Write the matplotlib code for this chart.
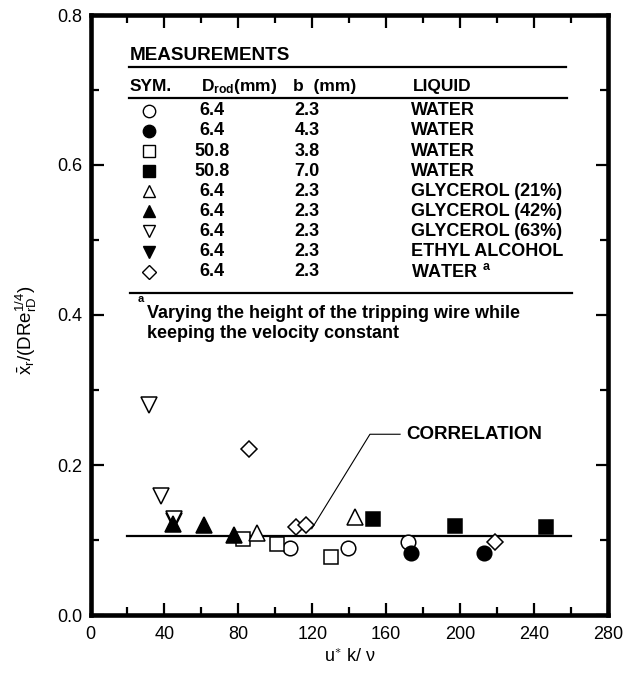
import matplotlib
matplotlib.use("Agg")
import matplotlib.pyplot as plt
from matplotlib.ticker import MultipleLocator, FormatStrFormatter

plt.rcParams['font.family'] = ['Liberation Sans', 'DejaVu Sans']
plt.rcParams['mathtext.fontset'] = 'custom'
plt.rcParams['mathtext.rm'] = 'Liberation Sans'
plt.rcParams['mathtext.it'] = 'Liberation Sans'
plt.rcParams['mathtext.bf'] = 'Liberation Sans:bold'
plt.rcParams['mathtext.sf'] = 'Liberation Sans'

# ---------------- data ----------------
water_23_x = [108.0, 139.5, 171.6]
water_23_y = [0.089, 0.089, 0.097]
water_43_x = [173.4, 212.8]
water_43_y = [0.083, 0.083]
water_508_38_x = [82.7, 100.8, 130.0]
water_508_38_y = [0.101, 0.095, 0.078]
water_508_70_x = [153.0, 197.2, 246.3]
water_508_70_y = [0.128, 0.119, 0.118]
gly21_x = [89.9, 143.3]
gly21_y = [0.109, 0.131]
gly42_x = [44.5, 61.4, 77.7]
gly42_y = [0.122, 0.120, 0.107]
gly63_x = [31.7, 38.3, 45.3]
gly63_y = [0.280, 0.159, 0.128]
ethyl_x = [45.0]
ethyl_y = [0.126]
water_a_x = [85.9, 111.2, 116.6, 218.9]
water_a_y = [0.221, 0.117, 0.120, 0.097]

corr_x = [20, 260]
corr_y = [0.106, 0.106]

table_drod = ['6.4', '6.4', '50.8', '50.8', '6.4', '6.4', '6.4', '6.4', '6.4']
table_b = ['2.3', '4.3', '3.8', '7.0', '2.3', '2.3', '2.3', '2.3', '2.3']
table_liquid = ['WATER', 'WATER', 'WATER', 'WATER', 'GLYCEROL (21%)',
                'GLYCEROL (42%)', 'GLYCEROL (63%)', 'ETHYL ALCOHOL', 'WATER']

# marker styles per series: (x, y, marker, filled, size, zorder)
series = [
    (water_23_x, water_23_y, 'o', False, 10.5, 3),
    (water_43_x, water_43_y, 'o', True, 10.5, 3),
    (water_508_38_x, water_508_38_y, 's', False, 9.5, 3),
    (water_508_70_x, water_508_70_y, 's', True, 9.5, 3),
    (gly21_x, gly21_y, '^', False, 11, 3),
    (gly42_x, gly42_y, '^', True, 11, 4),
    (gly63_x, gly63_y, 'v', False, 11, 3.5),
    (ethyl_x, ethyl_y, 'v', True, 11, 3.2),
    (water_a_x, water_a_y, 'D', False, 8, 3),
]

fig = plt.figure(figsize=(6.32, 6.75), dpi=100)
ax = fig.add_axes([90.5 / 632, 1 - 615 / 675, (608 - 90.5) / 632, 600 / 675])

ax.plot(corr_x, corr_y, color='black', lw=1.6, zorder=2)

for xs, ys, m, filled, ms, z in series:
    ax.plot(xs, ys, linestyle='none', marker=m, markersize=ms,
            markerfacecolor='black' if filled else 'white',
            markeredgecolor='black', markeredgewidth=1.1, zorder=z)

ax.set_xlim(0, 280)
ax.set_ylim(0, 0.8)
ax.xaxis.set_major_locator(MultipleLocator(40))
ax.xaxis.set_minor_locator(MultipleLocator(20))
ax.yaxis.set_major_locator(MultipleLocator(0.2))
ax.yaxis.set_minor_locator(MultipleLocator(0.1))
ax.yaxis.set_major_formatter(FormatStrFormatter('%.1f'))
ax.tick_params(which='both', direction='in', top=True, right=True, width=1.6,
               labelsize=13)
ax.tick_params(which='major', length=9)
ax.tick_params(which='minor', length=6)
ax.tick_params(axis='x', pad=8)
ax.tick_params(axis='y', pad=6)
for sp in ax.spines.values():
    sp.set_linewidth(3.3)

ax.set_xlabel(r'u$^{\ast}$ k/ $\nu$', fontsize=13)
ax.xaxis.set_label_coords(0.5, -0.055)
ax.set_ylabel(r'$\bar{x}_r$/(DRe$_{rD}^{1/4}$)', fontsize=13.5)
ax.yaxis.set_label_coords(-0.10, 0.475)

# correlation annotation
ax.text(171.1, 0.241, 'CORRELATION', fontsize=13.5, fontweight='bold',
        va='center', ha='left')
ax.plot([167.5, 151.2, 119.7], [0.241, 0.241, 0.115], color='black', lw=0.8)

# ---------------- measurement table ----------------
T = ax.transAxes
def fy(py):
    return (615 - py) / 600

def fx(px):
    return (px - 90.5) / 517.5

kw = dict(transform=T, fontweight='bold', va='center', clip_on=False)
ax.text(fx(129.3), fy(55), 'MEASUREMENTS', fontsize=13.6, ha='left', **kw)
ax.plot([fx(129), fx(566)], [fy(67.3), fy(67.3)], color='black', lw=1.6, transform=T)
ax.text(fx(129.3), fy(86.7), 'SYM.', fontsize=12.5, ha='left', **kw)
ax.text(fx(201), fy(86.7), r'D$_{\mathbf{rod}}$(mm)', fontsize=12.5, ha='left', **kw)
ax.text(fx(293.3), fy(86.7), 'b  (mm)', fontsize=12.5, ha='left', **kw)
ax.text(fx(412.7), fy(86.7), 'LIQUID', fontsize=12.5, ha='left', **kw)
ax.plot([fx(129), fx(567)], [fy(97.7), fy(97.7)], color='black', lw=1.6, transform=T)

row0 = 110.8
dy = 20.1
for i, (xs, ys, m, filled, ms, z) in enumerate(series):
    py = row0 + i * dy
    ax.plot([fx(149.3)], [fy(py)], transform=T, linestyle='none', marker=m,
            markersize=ms * 0.85, markerfacecolor='black' if filled else 'white',
            markeredgecolor='black', markeredgewidth=1.0, clip_on=False)
    ax.text(fx(212), fy(py), table_drod[i], fontsize=13, ha='center', **kw)
    ax.text(fx(307), fy(py), table_b[i], fontsize=13, ha='center', **kw)
    liq = table_liquid[i]
    if i == len(series) - 1:
        liq = liq + r' $^{\mathbf{a}}$'
    ax.text(fx(411), fy(py), liq, fontsize=13, ha='left', **kw)

ax.plot([fx(130), fx(571.7)], [fy(293.3), fy(293.3)], color='black', lw=1.6, transform=T)
ax.text(fx(138), fy(299), 'a', fontsize=8, ha='left', **kw)
ax.text(fx(146.7), fy(313.3), 'Varying the height of the tripping wire while',
        fontsize=13, ha='left', **kw)
ax.text(fx(146.7), fy(333), 'keeping the velocity constant',
        fontsize=13, ha='left', **kw)

fig.savefig('out.png', dpi=100)
